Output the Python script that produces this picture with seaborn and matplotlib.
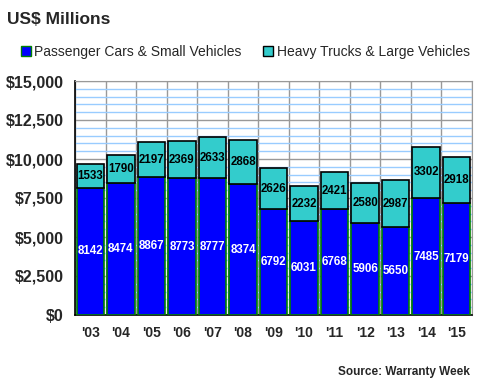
import numpy as np
import pandas as pd
import matplotlib
matplotlib.use("Agg")
import matplotlib.pyplot as plt
from matplotlib.ticker import MultipleLocator, FuncFormatter
from matplotlib.lines import Line2D
import seaborn as sns

years = ["'03", "'04", "'05", "'06", "'07", "'08", "'09", "'10", "'11", "'12", "'13", "'14", "'15"]
passenger = [8142, 8474, 8867, 8773, 8777, 8374, 6792, 6031, 6768, 5906, 5650, 7485, 7179]
heavy = [1533, 1790, 2197, 2369, 2633, 2868, 2626, 2232, 2421, 2580, 2987, 3302, 2918]

df = pd.DataFrame({"year": years, "passenger": passenger, "heavy": heavy})

sns.set_style("white")
plt.rcParams['font.family'] = ['Liberation Sans', 'DejaVu Sans']

fig = plt.figure(figsize=(4.8, 3.9), dpi=100)
ax = fig.add_axes([75/480, 1-315/390, 397/480, 234/390])

blue = "#0000FF"
cyan = "#33CCCC"

# bottom layer: passenger cars, top layer: heavy trucks stacked on it
sns.barplot(data=df, x="year", y="passenger", color=blue, edgecolor="#008000",
            linewidth=1.2, width=0.9, saturation=1, ax=ax, zorder=3)
sns.barplot(data=df, x="year", y="heavy", color=cyan, edgecolor="black",
            linewidth=1.2, width=0.9, saturation=1, ax=ax, zorder=3,
            bottom=df["passenger"].values)

ax.bar_label(ax.containers[0], label_type="center", color="white",
             fontsize=8.3, fontweight="bold")
ax.bar_label(ax.containers[1], label_type="center", color="black",
             fontsize=8.3, fontweight="bold")

ax.set_xlim(-0.5, len(years) - 0.5)
ax.set_ylim(0, 15000)
ax.yaxis.set_major_locator(MultipleLocator(2500))
ax.yaxis.set_minor_locator(MultipleLocator(500))
ax.yaxis.set_major_formatter(FuncFormatter(lambda v, p: "${:,.0f}".format(v)))
ax.set_xticks(np.arange(-0.5, len(years), 1.0), minor=True)

ax.grid(True, which="minor", axis="y", color="#99CCFF", linewidth=1, zorder=0)
ax.grid(True, which="major", axis="y", color="#999999", linewidth=1, zorder=1)
ax.grid(True, which="minor", axis="x", color="#999999", linewidth=1, zorder=1)
ax.grid(False, which="major", axis="x")
ax.set_axisbelow(True)

ax.tick_params(axis="x", which="major", length=0, pad=8, labelsize=10)
ax.tick_params(axis="x", which="minor", length=5, direction="out", color="black")
ax.tick_params(axis="y", which="major", length=8, direction="inout", color="black",
               labelsize=11.5, pad=4)
ax.tick_params(axis="y", which="minor", length=4, direction="in", color="black")
for lab in ax.get_xticklabels() + ax.get_yticklabels():
    lab.set_fontweight("bold")

ax.set_xlabel("")
ax.set_ylabel("")
for s in ["top", "right"]:
    ax.spines[s].set_color("#999999")
for s in ["left", "bottom"]:
    ax.spines[s].set_color("black")
    ax.spines[s].set_linewidth(1.2)

fig.text(7/480, 1-20/390, "US$ Millions", fontsize=12.5, fontweight="bold",
         va="center", ha="left")

handles = [
    Line2D([], [], marker="s", linestyle="none", markersize=7,
           markerfacecolor=blue, markeredgecolor="#008000"),
    Line2D([], [], marker="s", linestyle="none", markersize=7,
           markerfacecolor=cyan, markeredgecolor="black"),
]
fig.legend(handles, ["Passenger Cars & Small Vehicles", "Heavy Trucks & Large Vehicles"],
           loc="center left", bbox_to_anchor=(15/480, 1-52/390), ncol=2, frameon=False,
           handlelength=0.8, handletextpad=0.2, columnspacing=1.5, fontsize=10,
           borderaxespad=0)

fig.text(470/480, 1-372/390, "Source: Warranty Week", fontsize=8.5, fontweight="bold",
         ha="right", va="center")

fig.savefig("out.png", dpi=100)
